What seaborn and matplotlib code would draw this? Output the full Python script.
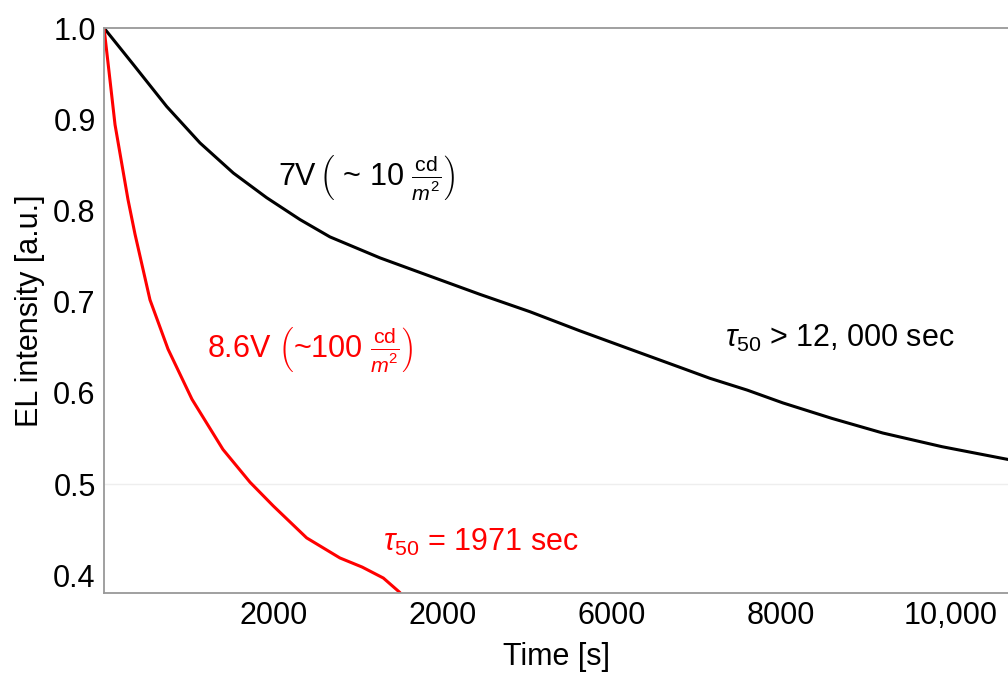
import pandas as pd
import matplotlib
matplotlib.use("Agg")
import matplotlib.pyplot as plt
import seaborn as sns

# black curve: 7V
t_7v = [0, 346, 740, 1134, 1528, 1921, 2315, 2669, 3260, 3850, 4441, 5031, 5622, 6212, 6804, 7157, 7600, 8020, 8600, 9200, 9900, 10680]
el_7v = [1.0, 0.960, 0.914, 0.874, 0.841, 0.814, 0.790, 0.771, 0.748, 0.728, 0.708, 0.689, 0.668, 0.648, 0.628, 0.616, 0.603, 0.589, 0.572, 0.556, 0.541, 0.527]

# red curve: 8.6V
t_86v = [0, 63, 130, 283, 366, 543, 756, 1039, 1405, 1725, 2000, 2394, 2787, 3050, 3300, 3497]
el_86v = [1.0, 0.949, 0.894, 0.812, 0.774, 0.702, 0.648, 0.593, 0.538, 0.502, 0.476, 0.441, 0.419, 0.409, 0.397, 0.381]

xticks = [2000, 4000, 6000, 8000, 10000]
xticklabels = ["2000", "2000", "6000", "8000", "10,000"]
yticks = [0.4, 0.5, 0.6, 0.7, 0.8, 0.9, 1.0]

df7 = pd.DataFrame({"t": t_7v, "el": el_7v})
df86 = pd.DataFrame({"t": t_86v, "el": el_86v})

sns.set_style("white")
plt.rcParams['font.family'] = ['Liberation Sans', 'DejaVu Sans']
plt.rcParams['mathtext.fontset'] = 'custom'
plt.rcParams['mathtext.rm'] = 'Liberation Sans'
plt.rcParams['mathtext.it'] = 'Liberation Sans:italic'
plt.rcParams['mathtext.bf'] = 'Liberation Sans:bold'

fig = plt.figure(figsize=(10.08, 6.75), dpi=100)
ax = fig.add_axes([0.1032, 0.1215, 0.8968, 0.837])

ax.axhline(0.5, color="#eeeeee", lw=1, zorder=0)
sns.lineplot(data=df7, x="t", y="el", color="black", lw=2.2, ax=ax, sort=False)
sns.lineplot(data=df86, x="t", y="el", color="#ff0000", lw=2.2, ax=ax, sort=False)

ax.set_xlim(0, 10680)
ax.set_ylim(0.3806, 1.0)
ax.set_xticks(xticks)
ax.set_xticklabels(xticklabels)
ax.set_yticks(yticks)
ax.set_yticklabels([f"{v:.1f}" for v in yticks])
ax.tick_params(direction="in", length=5, color="#999999", labelsize=22,
               labelcolor="black", pad=6)

for side in ["left", "bottom", "top"]:
    ax.spines[side].set_color("#999999")
    ax.spines[side].set_linewidth(1.3)
ax.spines["right"].set_visible(False)

ax.set_xlabel("Time [s]", fontsize=22, labelpad=8, color="black")
ax.set_ylabel("EL intensity [a.u.]", fontsize=22, labelpad=6, color="black")

ax.text(2055, 0.836, r"$7$V$\,\left(\text{ ~ }10\ \frac{\mathrm{cd}}{m^2}\right)$",
        fontsize=22, color="black", va="center", ha="left")
ax.text(1216, 0.647, r"8.6V $\left(\text{~}100\ \frac{\mathrm{cd}}{m^2}\right)$",
        fontsize=22, color="#ff0000", va="center", ha="left")
ax.text(7334, 0.66, r"$\tau_{50}$ > 12, 000 sec",
        fontsize=22, color="black", va="center", ha="left")
ax.text(3295, 0.436, r"$\tau_{50}$ = 1971 sec",
        fontsize=22, color="#ff0000", va="center", ha="left")

fig.savefig("out.png", dpi=100)
